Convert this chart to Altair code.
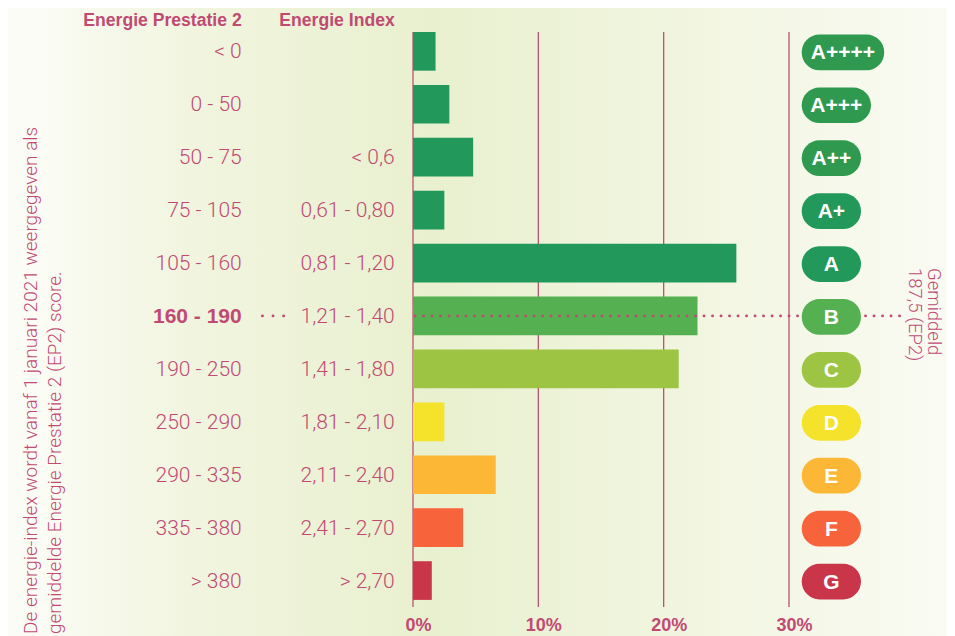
import altair as alt
import pandas as pd

# ---- data -------------------------------------------------------------
labels = ["A++++", "A+++", "A++", "A+", "A", "B", "C", "D", "E", "F", "G"]
ep2 = ["< 0", "0 - 50", "50 - 75", "75 - 105", "105 - 160", "160 - 190",
       "190 - 250", "250 - 290", "290 - 335", "335 - 380", "> 380"]
index_ranges = ["", "", "< 0,6", "0,61 - 0,80", "0,81 - 1,20", "1,21 - 1,40",
                "1,41 - 1,80", "1,81 - 2,10", "2,11 - 2,40", "2,41 - 2,70", "> 2,70"]
share_pct = [1.8, 2.9, 4.8, 2.5, 25.8, 22.7, 21.2, 2.5, 6.6, 4.0, 1.5]
bar_colors = ["#22995a", "#22995a", "#22995a", "#22995a", "#22995a", "#55b052",
              "#9dc543", "#f4e22b", "#fdb736", "#f7633b", "#c9364a"]
badge_colors = ["#2f9a4f", "#2f9a4f", "#2f9a4f", "#22995a", "#22995a", "#55b052",
                "#9dc543", "#f4e22b", "#fdb736", "#f7633b", "#c9364a"]
x_ticks = [0, 10, 20, 30]
headers = ["Energie Prestatie 2", "Energie Index"]
highlight = "B"
avg_lines = ["Gemiddeld", "187,5 (EP2)"]
note_lines = ["De energie-index wordt vanaf 1 januari 2021 weergegeven als",
              "gemiddelde Energie Prestatie 2 (EP2) score."]

PINK = "#c14a73"
GRID = "#b9536f"

df = pd.DataFrame({
    "label": labels, "ep2": ep2, "ei": index_ranges, "pct": share_pct,
    "bar_color": bar_colors, "badge_color": badge_colors,
})
# badge geometry (layout, in pixels)
badge_left = 388.7
df["bx0"] = badge_left
df["bx1"] = [badge_left + max(59.3, 29.7 + 13.2 * l.count("+")) for l in labels]
df["bxc"] = (df["bx0"] + df["bx1"]) / 2

Y = alt.Y("label:N", sort=labels, axis=None,
          scale=alt.Scale(paddingInner=0.269, paddingOuter=0.067, align=0))

W, H = 376, 575

# background gradient
bg = alt.Chart(pd.DataFrame({"k": [0]})).mark_rect(
    color=alt.Gradient(
        gradient="linear",
        stops=[alt.GradientStop(color="#fdfdf9", offset=0),
               alt.GradientStop(color="#f1f5df", offset=0.2),
               alt.GradientStop(color="#e9f0cf", offset=0.45),
               alt.GradientStop(color="#f2f6e2", offset=0.75),
               alt.GradientStop(color="#fafbf3", offset=1)],
        x1=0, x2=1, y1=0, y2=0)
).encode(x=alt.value(-413), x2=alt.value(542), y=alt.value(-32), y2=alt.value(604))

grid = alt.Chart(pd.DataFrame({"t": x_ticks})).mark_rule(
    color=GRID, strokeWidth=1.3
).encode(
    x=alt.X("t:Q", scale=alt.Scale(domain=[0, 30], nice=False, zero=True),
            axis=alt.Axis(values=x_ticks, grid=False, domain=False, ticks=False,
                          labelExpr="datum.value + '%'", labelFont="Liberation Sans",
                          labelFontWeight="bold", labelFontSize=18, labelColor=PINK,
                          labelPadding=9, labelOffset=5, labelFlush=False,
                          title=None, zindex=2)),
    y=alt.value(0), y2=alt.value(H),
)

bars = alt.Chart(df).mark_bar().encode(
    x=alt.X("pct:Q", scale=alt.Scale(domain=[0, 30], nice=False)),
    x2=alt.datum(0),
    y=Y,
    color=alt.Color("bar_color:N", scale=None),
)

hl = df[df["label"] == highlight]

dots_bar = alt.Chart(hl).mark_rule(
    color=PINK, strokeWidth=2.8, strokeCap="round", strokeDash=[0.1, 8.4]
).encode(y=Y, x=alt.value(2), x2=alt.value(492))

dots_left = alt.Chart(hl).mark_rule(
    color=PINK, strokeWidth=2.8, strokeCap="round", strokeDash=[0.1, 10.5]
).encode(y=Y, x=alt.value(-150.6), x2=alt.value(-128))

badges = alt.Chart(df).mark_bar(size=35.7, cornerRadius=17.8, yOffset=1).encode(
    x=alt.X("bx0:Q", scale=None), x2="bx1:Q", y=Y,
    color=alt.Color("badge_color:N", scale=None),
)
badge_text = alt.Chart(df).mark_text(
    font="Liberation Sans", fontWeight="bold", fontSize=21, color="white",
    baseline="middle", align="center", dy=2
).encode(x=alt.X("bxc:Q", scale=None), y=Y, text="label:N")

normal = df[df["label"] != highlight]
ep2_text = alt.Chart(normal).mark_text(
    font="Roboto", fontWeight=300, fontSize=21, color=PINK,
    align="right", baseline="middle", dy=1
).encode(x=alt.value(-171.3), y=Y, text="ep2:N")
ep2_bold = alt.Chart(hl).mark_text(
    font="Liberation Sans", fontWeight="bold", fontSize=21, color=PINK,
    align="right", baseline="middle", dy=1
).encode(x=alt.value(-171.3), y=Y, text="ep2:N")
ei_text = alt.Chart(df).mark_text(
    font="Roboto", fontWeight=300, fontSize=21, color=PINK,
    align="right", baseline="middle", dy=1
).encode(x=alt.value(-18.3), y=Y, text="ei:N")

hdr_df = pd.DataFrame({"h": headers, "pos": [-171.3, -18.3]})
hdr = alt.Chart(hdr_df).mark_text(
    font="Liberation Sans", fontWeight="bold", fontSize=17.6, color=PINK,
    align="right", baseline="alphabetic"
).encode(x=alt.X("pos:Q", scale=None), y=alt.value(-6), text="h:N")

avg_df = pd.DataFrame({"t": avg_lines, "pos": [520.5, 501.5]})
avg = alt.Chart(avg_df).mark_text(
    font="Roboto", fontWeight=300, fontSize=18.5, color=PINK,
    align="left", baseline="middle", angle=90
).encode(x=alt.X("pos:Q", scale=None), y=alt.value(236), text="t:N")

note_df = pd.DataFrame({"t": note_lines, "pos": [-382, -358]})
note = alt.Chart(note_df).mark_text(
    font="Roboto", fontWeight=300, fontSize=19, color=PINK,
    align="left", baseline="middle", angle=270
).encode(x=alt.X("pos:Q", scale=None), y=alt.value(602), text="t:N")

chart = alt.layer(
    bg, grid, bars, dots_bar, dots_left, badges, badge_text,
    ep2_text, ep2_bold, ei_text, hdr, avg, note
).properties(
    width=W, height=H,
    autosize=alt.AutoSizeParams(type="none"),
    padding={"left": 405, "top": 24, "right": 158, "bottom": 29},
).configure_view(stroke=None)

chart.save("out.html", embed_options={"renderer": "svg", "actions": False})
